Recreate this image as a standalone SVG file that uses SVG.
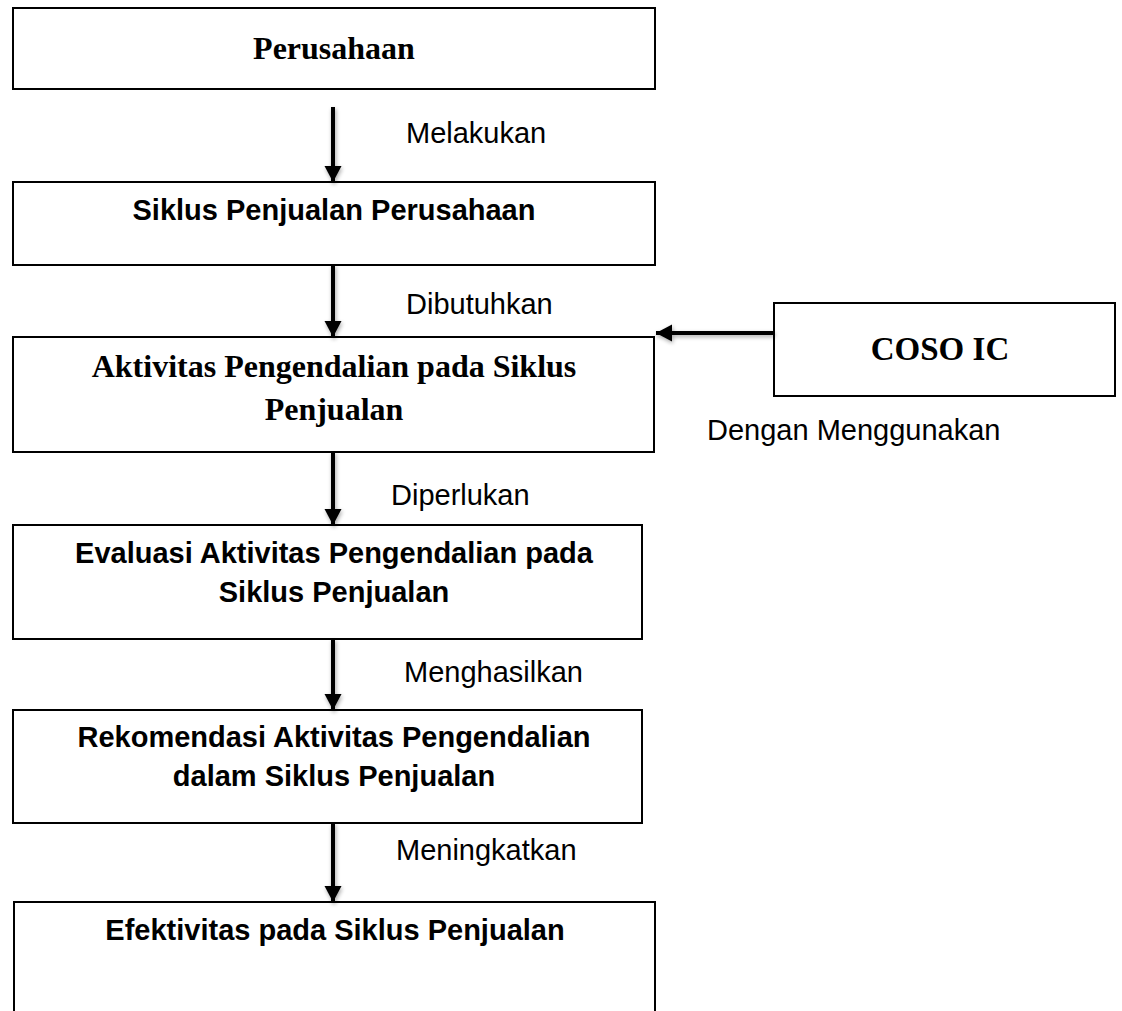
<svg xmlns="http://www.w3.org/2000/svg" width="1122" height="1011" viewBox="0 0 1122 1011">
<style>
.box{fill:#fff;stroke:#000;stroke-width:2}
.conn{stroke:#000;stroke-width:4;fill:none}
.serif{font-family:"Liberation Serif","Times New Roman",serif;font-weight:bold;font-size:32px;fill:#000}
.bold{font-family:"Liberation Sans",Arial,sans-serif;font-weight:bold;font-size:29px;fill:#000}
.lbl{font-family:"Liberation Sans",Arial,sans-serif;font-size:29px;fill:#000}
</style>
<defs>
<marker id="ah" markerUnits="userSpaceOnUse" markerWidth="17" markerHeight="18" refX="16" refY="8.5" orient="auto">
<path d="M0,0 L16,8.5 L0,17 Z" fill="#000"/>
</marker>
<filter id="sh" x="-20%" y="-20%" width="140%" height="140%">
<feGaussianBlur in="SourceAlpha" stdDeviation="2"/>
<feOffset dx="1" dy="2" result="b"/>
<feComponentTransfer><feFuncA type="linear" slope="0.35"/></feComponentTransfer>
<feMerge><feMergeNode/><feMergeNode in="SourceGraphic"/></feMerge>
</filter>
</defs>
<rect width="1122" height="1011" fill="#fff"/>
<g id="n1"><rect class="box" x="13" y="8" width="642" height="81"/><text class="serif" x="334" y="59" text-anchor="middle">Perusahaan</text></g>
<g id="n2"><rect class="box" x="13" y="182" width="642" height="83"/><text class="bold" x="334" y="220" text-anchor="middle">Siklus Penjualan Perusahaan</text></g>
<g id="n3"><rect class="box" x="13" y="337" width="641" height="115"/><text class="serif" x="334" y="377" text-anchor="middle">Aktivitas Pengendalian pada Siklus</text><text class="serif" x="334" y="420" text-anchor="middle">Penjualan</text></g>
<g id="n4"><rect class="box" x="13" y="525" width="629" height="114"/><text class="bold" x="334" y="563" text-anchor="middle">Evaluasi Aktivitas Pengendalian pada</text><text class="bold" x="334" y="602" text-anchor="middle">Siklus Penjualan</text></g>
<g id="n5"><rect class="box" x="13" y="710" width="629" height="113"/><text class="bold" x="334" y="747" text-anchor="middle">Rekomendasi Aktivitas Pengendalian</text><text class="bold" x="334" y="786" text-anchor="middle">dalam Siklus Penjualan</text></g>
<g id="n6"><rect class="box" x="14" y="902" width="641" height="120"/><text class="bold" x="335" y="940" text-anchor="middle">Efektivitas pada Siklus Penjualan</text></g>
<g id="n7"><rect class="box" x="774" y="303" width="341" height="93"/><text class="serif" x="940" y="360" text-anchor="middle" style="font-size:33px">COSO IC</text></g>
<g id="connectors" filter="url(#sh)">
<line class="conn" x1="333" y1="107" x2="333" y2="182" marker-end="url(#ah)"/>
<line class="conn" x1="333" y1="265" x2="333" y2="337" marker-end="url(#ah)"/>
<line class="conn" x1="333" y1="452" x2="333" y2="525" marker-end="url(#ah)"/>
<line class="conn" x1="333" y1="639" x2="333" y2="710" marker-end="url(#ah)"/>
<line class="conn" x1="333" y1="823" x2="333" y2="902" marker-end="url(#ah)"/>
<line class="conn" x1="774" y1="333" x2="656" y2="333" marker-end="url(#ah)"/>
</g>
<g id="labels">
<text class="lbl" x="406" y="143">Melakukan</text>
<text class="lbl" x="406" y="314">Dibutuhkan</text>
<text class="lbl" x="391" y="505">Diperlukan</text>
<text class="lbl" x="404" y="682">Menghasilkan</text>
<text class="lbl" x="396" y="860">Meningkatkan</text>
<text class="lbl" x="707" y="440">Dengan Menggunakan</text>
</g>
</svg>
